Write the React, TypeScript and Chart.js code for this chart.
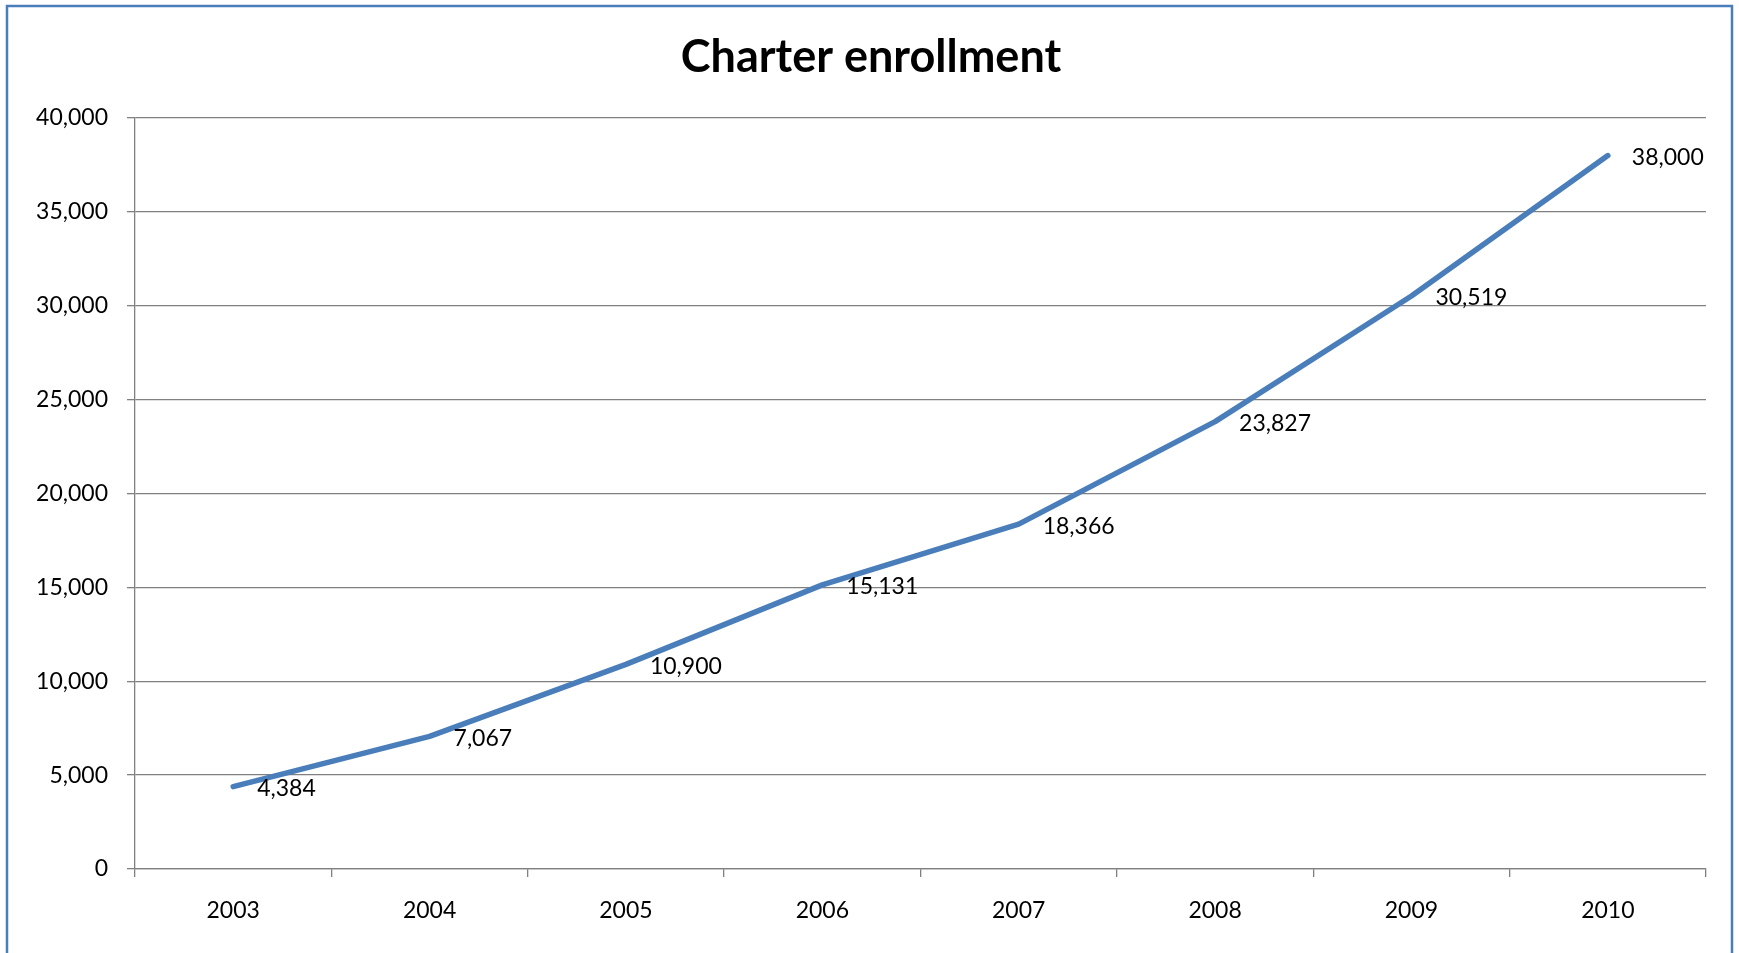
import React, { useEffect, useRef } from "react";
import { Chart, registerables } from "chart.js";

Chart.register(...registerables);

const years = ["2003", "2004", "2005", "2006", "2007", "2008", "2009", "2010"];
const enrollment = [4384, 7067, 10900, 15131, 18366, 23827, 30519, 38000];
const yMin = 0;
const yMax = 40000;
const yStep = 5000;
const titleText = "Charter enrollment";

const FONT = "Lato, 'Open Sans', sans-serif";
const GRID = "#808080";
const LINE = "#4A7EBB";

const fmt = (v: number) => v.toLocaleString("en-US");

const frame = {
  id: "frame",
  beforeDraw(chart: any) {
    const ctx = chart.ctx;
    ctx.save();
    ctx.fillStyle = "#ffffff";
    ctx.fillRect(0, 0, chart.width, chart.height);
    ctx.strokeStyle = "#4A7EBB";
    ctx.lineWidth = 2.5;
    ctx.strokeRect(7, 6, 1725, 1000);
    ctx.restore();
  },
};

const dataLabels = {
  id: "dataLabels",
  afterDatasetsDraw(chart: any) {
    const ctx = chart.ctx;
    const meta = chart.getDatasetMeta(0);
    const ds = chart.data.datasets[0];
    ctx.save();
    ctx.font = `23px ${FONT}`;
    ctx.fillStyle = "#000000";
    ctx.textAlign = "left";
    ctx.textBaseline = "middle";
    meta.data.forEach((pt: any, i: number) => {
      ctx.fillText(fmt(ds.data[i] as number), pt.x + 24, pt.y + 2);
    });
    ctx.restore();
  },
};

export default function App() {
  const ref = useRef<HTMLCanvasElement | null>(null);

  useEffect(() => {
    const canvas = ref.current;
    if (!canvas) return;
    const chart = new Chart(canvas, {
      type: "line",
      data: {
        labels: years,
        datasets: [
          {
            data: enrollment,
            borderColor: LINE,
            borderWidth: 5.5,
            borderCapStyle: "round",
            borderJoinStyle: "round",
            pointRadius: 0,
            pointHoverRadius: 0,
            tension: 0,
            fill: false,
          },
        ],
      },
      options: {
        responsive: false,
        animation: false,
        devicePixelRatio: 1,
        layout: { padding: { left: 36, right: 33, top: 0, bottom: 0 } },
        plugins: {
          legend: { display: false },
          tooltip: { enabled: false },
          title: {
            display: true,
            text: titleText,
            color: "#000000",
            font: { family: FONT, size: 45, weight: "bold" },
            padding: { top: 30, bottom: 34 },
          },
        },
        scales: {
          x: {
            type: "category",
            offset: true,
            grid: {
              display: true,
              drawOnChartArea: false,
              drawTicks: true,
              tickLength: 8,
              offset: true,
              color: GRID,
              lineWidth: 1.3,
            },
            border: { display: true, color: GRID, width: 1.3 },
            ticks: {
              color: "#000000",
              font: { family: FONT, size: 23 },
              padding: 20,
              maxRotation: 0,
            },
            afterFit: (s: any) => {
              s.height = 84;
            },
          },
          y: {
            min: yMin,
            max: yMax,
            grid: {
              color: GRID,
              lineWidth: 1.3,
              tickLength: 8,
              drawTicks: true,
            },
            border: { display: true, color: GRID, width: 1.3 },
            ticks: {
              stepSize: yStep,
              color: "#000000",
              font: { family: FONT, size: 23 },
              padding: 19,
              callback: (v: any) => fmt(Number(v)),
            },
            afterFit: (s: any) => {
              s.width = 99;
            },
          },
        },
      },
      plugins: [frame, dataLabels],
    });
    return () => chart.destroy();
  }, []);

  return (
    <div style={{ position: "fixed", left: 0, top: 0, width: 1739, height: 953, background: "#fff" }}>
      <canvas ref={ref} width={1739} height={953} style={{ display: "block" }} />
    </div>
  );
}
